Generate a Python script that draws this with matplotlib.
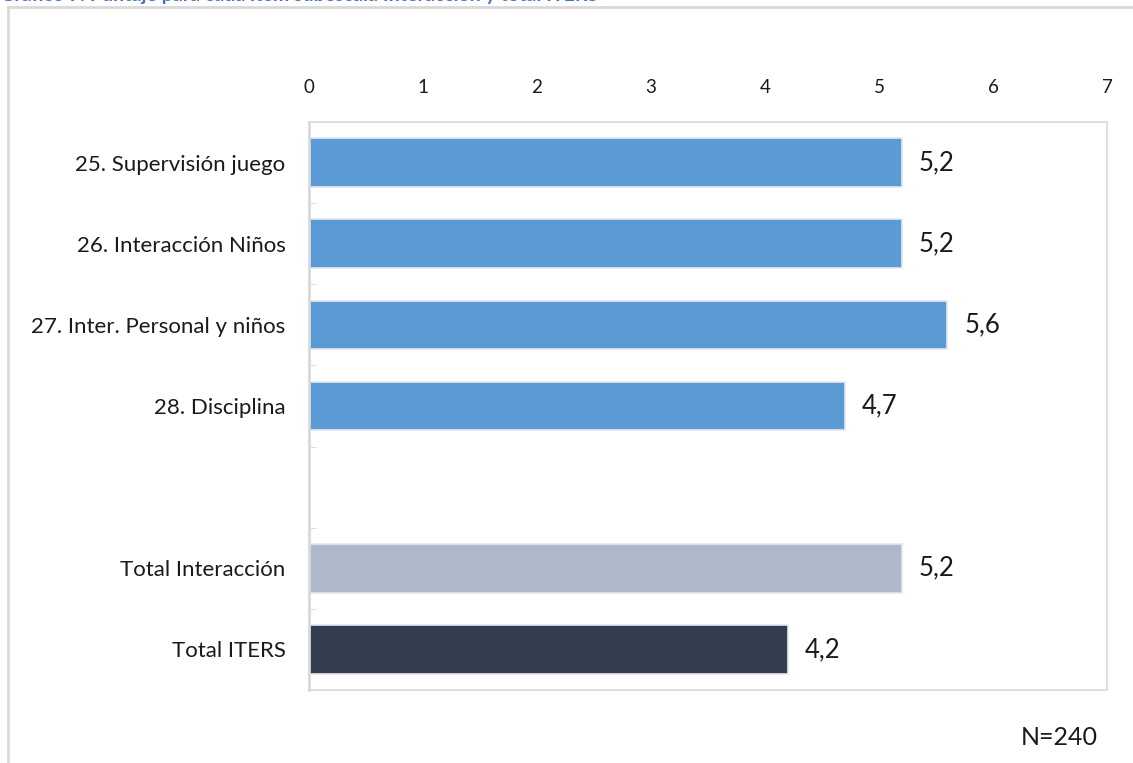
import matplotlib.pyplot as plt
from matplotlib.patches import Rectangle

# data
categories = ["25. Supervisión juego", "26. Interacción Niños",
              "27. Inter. Personal y niños", "28. Disciplina", "",
              "Total Interacción", "Total ITERS"]
values = [5.2, 5.2, 5.6, 4.7, None, 5.2, 4.2]
colors = ["#5B9BD5", "#5B9BD5", "#5B9BD5", "#5B9BD5", "#5B9BD5",
          "#ADB9CA", "#333F50"]
x_ticks = [0, 1, 2, 3, 4, 5, 6, 7]

plt.rcParams['font.family'] = ['Lato', 'DejaVu Sans']

fig = plt.figure(figsize=(11.33, 7.63), dpi=100)
ax = fig.add_axes([309 / 1133, 1 - 690 / 763, (1107 - 309) / 1133, (690 - 122) / 763])

pos = list(range(len(categories)))
for p, v, c in zip(pos, values, colors):
    if v is None:
        continue
    ax.barh(p, v, height=0.6, color=c, edgecolor="#E4E8EE", linewidth=1.2)
    ax.text(v + 0.15, p, f"{v:.1f}".replace(".", ","), va="center", ha="left",
            fontsize=18.5, color="#1a1a1a")

ax.set_ylim(len(categories) - 0.5, -0.5)
ax.set_yticks(pos)
ax.set_yticklabels(categories, fontsize=16, color="#1a1a1a")
ax.set_yticks([p + 0.5 for p in pos[:-1]], minor=True)
ax.tick_params(axis="y", which="major", length=0, pad=17)
ax.tick_params(axis="y", which="minor", length=5, color="#D9D9D9", direction="in")

ax.set_xlim(0, 7)
ax.set_xticks(x_ticks)
ax.xaxis.tick_top()
ax.tick_params(axis="x", length=0, labelsize=13.5, labelcolor="#1a1a1a", pad=19)

for s in ax.spines.values():
    s.set_color("#D9D9D9")
    s.set_linewidth(1.2)
ax.spines["left"].set_linewidth(2)

# outer frame of the chart area
fig.patches.append(Rectangle((8 / 1133, -0.1), 1.2, 1 - 7 / 763 + 0.1,
                             transform=fig.transFigure, fill=False,
                             edgecolor="#D9D9D9", linewidth=2))

# title, cut off at the top of the picture as in the source
fig.text(0.0, 1 - 1 / 763, "Gráfico 9: Puntaje para cada ítem subescala Interacción y total ITERS",
         fontsize=14, fontweight="bold", color="#4472C4", ha="left", va="baseline")

fig.text(1098 / 1133, 1 - 745 / 763, "N=240", fontsize=18, color="#1a1a1a",
         ha="right", va="baseline")

fig.savefig("out.png", dpi=100)
